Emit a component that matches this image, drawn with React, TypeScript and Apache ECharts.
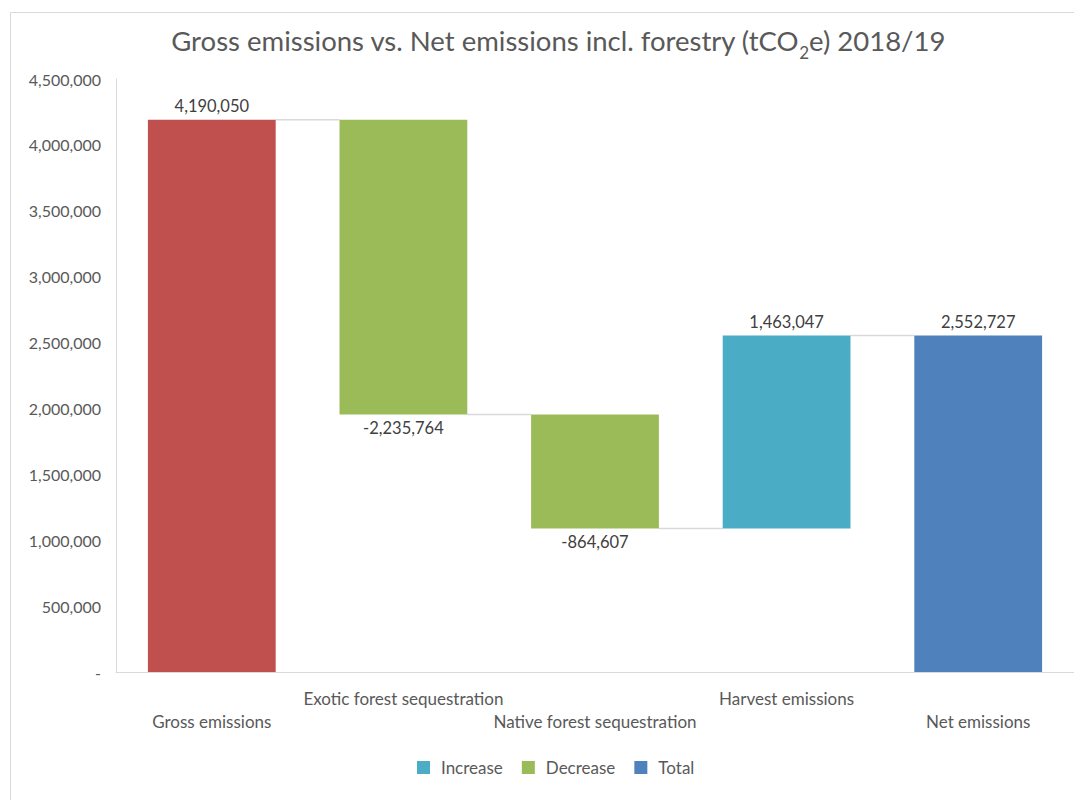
import React, { useEffect, useRef } from "react";
import * as echarts from "echarts";

const categories = [
  "Gross emissions",
  "Exotic forest sequestration",
  "Native forest sequestration",
  "Harvest emissions",
  "Net emissions",
];
// signed step values; first and last are totals
const grossValue = 4190050;
const steps = [-2235764, -864607, 1463047];
const netValue = 2552727;
const yTicks = [0, 500000, 1000000, 1500000, 2000000, 2500000, 3000000, 3500000, 4000000, 4500000];

const FONT = "Lato, 'Liberation Sans', sans-serif";
const TXT = "#595959";

export default function App() {
  const ref = useRef<HTMLDivElement>(null);
  useEffect(() => {
    if (!ref.current) return;
    const chart = echarts.init(ref.current, null, { renderer: "svg" });

    const levels: number[] = [grossValue];
    steps.forEach((s) => levels.push(levels[levels.length - 1] + s));
    const base: (number | string)[] = ["-"];
    const inc: (number | string)[] = ["-"];
    const dec: (number | string)[] = ["-"];
    steps.forEach((s, i) => {
      const prev = levels[i];
      const next = levels[i + 1];
      base.push(Math.min(prev, next));
      if (s >= 0) {
        inc.push(s);
        dec.push("-");
      } else {
        dec.push(-s);
        inc.push("-");
      }
    });
    base.push("-");
    inc.push("-");
    dec.push("-");
    const gross: (number | string)[] = [grossValue, "-", "-", "-", "-"];
    const total: (number | string)[] = ["-", "-", "-", "-", netValue];
    const connectors = levels.map((v, i) => [i, v]);

    const fmt = (v: number) => v.toLocaleString("en-US");
    const gapFrac = 1 / 3;
    const labelStyle = { color: "#404040", fontSize: 16.5, fontFamily: FONT };

    chart.setOption({
      animation: false,
      textStyle: { fontFamily: FONT },
      graphic: [
        {
          type: "rect",
          shape: { x: 10.5, y: 12.5, width: 1200, height: 1000 },
          style: { fill: "none", stroke: "#d9d9d9", lineWidth: 1 },
          silent: true,
        },
      ],
      title: {
        text: "{a|Gross emissions vs. Net emissions incl. forestry (tCO}{s|2}{a|e) 2018/19}",
        left: 553,
        textAlign: "center",
        top: 17,
        textStyle: {
          fontWeight: "normal",
          rich: {
            a: { fontSize: 27.5, fontWeight: "normal", color: TXT, fontFamily: FONT, verticalAlign: "bottom", lineHeight: 32 },
            s: { fontSize: 17, fontWeight: "normal", color: TXT, fontFamily: FONT, verticalAlign: "bottom", lineHeight: 32, padding: [0, 0, -7, 0] },
          },
        },
      },
      legend: {
        bottom: 19,
        left: 412,
        data: ["Increase", "Decrease", "Total"],
        itemWidth: 13,
        itemHeight: 13,
        itemGap: 19,
        icon: "rect",
        textStyle: { fontSize: 17, color: TXT, fontFamily: FONT, padding: [0, 0, 0, 6] },
      },
      grid: { left: 116, right: -2, top: 79, bottom: 128 },
      xAxis: {
        type: "category",
        data: categories,
        axisLine: { lineStyle: { color: "#d9d9d9", width: 1 } },
        axisTick: { show: false },
        axisLabel: {
          interval: 0,
          color: TXT,
          fontSize: 17,
          fontFamily: FONT,
          margin: 15,
          lineHeight: 23,
          formatter: (v: string, i: number) => (i % 2 === 0 ? "\n" + v : v),
        },
      },
      yAxis: {
        type: "value",
        min: yTicks[0],
        max: yTicks[yTicks.length - 1],
        interval: yTicks[1] - yTicks[0],
        axisLine: { show: true, lineStyle: { color: "#d9d9d9", width: 1 } },
        axisTick: { show: false },
        splitLine: { show: false },
        axisLabel: {
          color: TXT,
          fontSize: 16,
          fontFamily: FONT,
          margin: 15,
          formatter: (v: number) => (v === 0 ? "-" : fmt(v)),
        },
      },
      series: [
        {
          name: "base",
          type: "bar",
          stack: "w",
          data: base,
          barCategoryGap: "33.3%",
          itemStyle: { color: "transparent" },
          silent: true,
        },
        {
          name: "Gross",
          type: "bar",
          stack: "w",
          data: gross,
          itemStyle: { color: "#C0504D" },
          label: { show: true, position: "top", ...labelStyle, formatter: (p: any) => fmt(p.value) },
        },
        {
          name: "Increase",
          type: "bar",
          stack: "w",
          data: inc,
          itemStyle: { color: "#4BACC6" },
          label: { show: true, position: "top", ...labelStyle, formatter: (p: any) => fmt(p.value) },
        },
        {
          name: "Decrease",
          type: "bar",
          stack: "w",
          data: dec,
          itemStyle: { color: "#9BBB59" },
          label: { show: true, position: "bottom", ...labelStyle, formatter: (p: any) => "-" + fmt(p.value) },
        },
        {
          name: "Total",
          type: "bar",
          stack: "w",
          data: total,
          itemStyle: { color: "#4F81BD" },
          label: { show: true, position: "top", ...labelStyle, formatter: (p: any) => fmt(p.value) },
        },
        {
          name: "connectors",
          type: "custom",
          silent: true,
          data: connectors,
          encode: { x: 0, y: 1 },
          z: 1,
          renderItem: (params: any, api: any) => {
            const i = api.value(0);
            const v = api.value(1);
            const p1 = api.coord([i, v]);
            const p2 = api.coord([i + 1, v]);
            const band = api.size([1, 0])[0];
            const half = (band * (1 - gapFrac)) / 2;
            return {
              type: "line",
              shape: { x1: p1[0] + half, y1: p1[1], x2: p2[0] - half, y2: p2[1] },
              style: { stroke: "#d9d9d9", lineWidth: 1.5 },
            };
          },
        },
      ],
    });
    return () => chart.dispose();
  }, []);
  return (
    <div
      ref={ref}
      style={{ position: "fixed", left: 0, top: 0, width: 1074, height: 800, background: "#fff" }}
    />
  );
}
